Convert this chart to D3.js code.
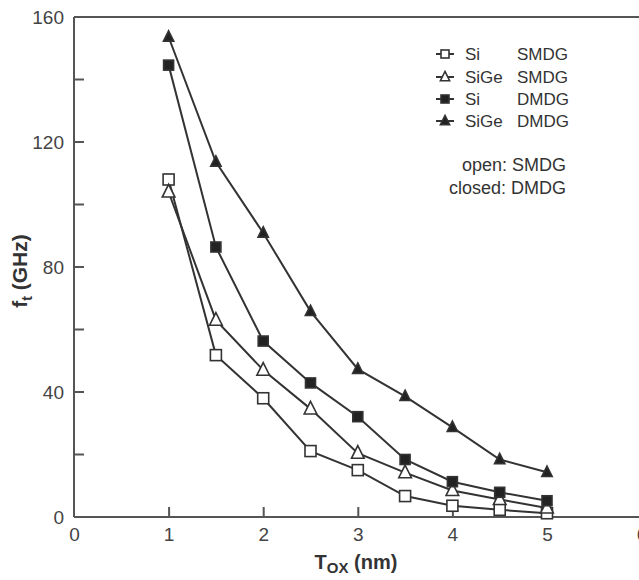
<!DOCTYPE html>
<html>
<head>
<meta charset="utf-8">
<script src="https://cdn.jsdelivr.net/npm/d3@7/dist/d3.min.js"></script>
<style>
  body { margin: 0; background: #fff; }
  svg text { font-family: "Liberation Sans", Arial, sans-serif; }
</style>
</head>
<body>
<div id="chart"></div>
<script>
// data
const tox = [1, 1.5, 2, 2.5, 3, 3.5, 4, 4.5, 5];
const siSMDG   = [108, 51.8, 38, 21.1, 15.0, 6.7, 3.6, 2.3, 1.2];
const sigeSMDG = [104, 63, 47, 34.6, 20.4, 14.2, 8.5, 5.6, 2.9];
const siDMDG   = [144.6, 86.4, 56.3, 42.9, 32.1, 18.4, 11.3, 7.9, 5.2];
const sigeDMDG = [153.6, 113.6, 90.9, 65.8, 47.3, 38.6, 28.7, 18.4, 14.3];
const yTicks = [0, 40, 80, 120, 160];
const xTicks = [0, 1, 2, 3, 4, 5, 6];

const series = [
  { name: 'Si', kind: 'SMDG', values: siSMDG, shape: 'square', filled: false },
  { name: 'SiGe', kind: 'SMDG', values: sigeSMDG, shape: 'triangle', filled: false },
  { name: 'Si', kind: 'DMDG', values: siDMDG, shape: 'square', filled: true },
  { name: 'SiGe', kind: 'DMDG', values: sigeDMDG, shape: 'triangle', filled: true }
];

const width = 639, height = 580;
const plotLeft = 74, plotTop = 17, plotBottom = 517;
const axisColor = '#555';
const lineColor = '#333';

const svg = d3.select('#chart').append('svg')
  .attr('width', width)
  .attr('height', height);

const x = d3.scaleLinear().domain([0, 6]).range([plotLeft, plotLeft + 6 * 94.6]);
const y = d3.scaleLinear().domain([0, 160]).range([plotBottom, plotTop]);

// frame: top line
svg.append('line').attr('x1', plotLeft).attr('x2', width).attr('y1', plotTop).attr('y2', plotTop)
  .attr('stroke', axisColor).attr('stroke-width', 2);

const xAxis = svg.append('g')
  .attr('transform', `translate(0,${plotBottom})`)
  .call(d3.axisBottom(x).tickValues(xTicks).tickSize(0).tickPadding(11).tickFormat(d3.format('d')));
xAxis.select('.domain').remove();
xAxis.append('line').attr('x1', plotLeft).attr('x2', width).attr('stroke', axisColor).attr('stroke-width', 2);
// inward ticks on x
xAxis.selectAll('.tick').filter(d => d > 0)
  .append('line').attr('y1', 0).attr('y2', -10).attr('stroke', axisColor).attr('stroke-width', 2);

const yAxis = svg.append('g')
  .attr('transform', `translate(${plotLeft},0)`)
  .call(d3.axisLeft(y).tickValues(yTicks).tickSize(0).tickPadding(10));
yAxis.select('.domain').remove();
yAxis.append('line').attr('y1', plotTop).attr('y2', plotBottom).attr('stroke', axisColor).attr('stroke-width', 2);
// inward ticks on y, every 20
d3.range(20, 160, 20).forEach(v => {
  yAxis.append('line').attr('x1', 0).attr('x2', 10).attr('y1', y(v)).attr('y2', y(v))
    .attr('stroke', axisColor).attr('stroke-width', 2);
});

svg.selectAll('.tick text')
  .attr('font-size', 19)
  .attr('fill', '#444');

// axis titles
const yt = svg.append('text')
  .attr('transform', `translate(27,271) rotate(-90)`)
  .attr('text-anchor', 'middle')
  .attr('font-size', 21).attr('font-weight', 'bold').attr('fill', '#333');
yt.append('tspan').text('f');
yt.append('tspan').attr('font-size', 14).attr('dy', 5).text('t');
yt.append('tspan').attr('dy', -5).text(' (GHz)');

const xt = svg.append('text')
  .attr('x', 356).attr('y', 569)
  .attr('text-anchor', 'middle')
  .attr('font-size', 20).attr('font-weight', 'bold').attr('fill', '#333');
xt.append('tspan').text('T');
xt.append('tspan').attr('font-size', 15).attr('dy', 4).text('OX');
xt.append('tspan').attr('dy', -4).text(' (nm)');

// marker drawing
function drawMarker(g, shape, filled, size) {
  if (shape === 'square') {
    g.append('rect')
      .attr('x', -size / 2).attr('y', -size / 2)
      .attr('width', size).attr('height', size)
      .attr('fill', filled ? '#222' : '#fff')
      .attr('stroke', lineColor).attr('stroke-width', 1.6);
  } else {
    const s = size * 1.15;
    g.append('path')
      .attr('d', `M0,${-s * 0.6}L${s / 2},${s * 0.4}L${-s / 2},${s * 0.4}Z`)
      .attr('fill', filled ? '#222' : '#fff')
      .attr('stroke', lineColor).attr('stroke-width', 1.6);
  }
}

const line = d3.line().x(d => x(d[0])).y(d => y(d[1]));

series.forEach(s => {
  const pts = tox.map((t, i) => [t, s.values[i]]);
  svg.append('path')
    .datum(pts)
    .attr('d', line)
    .attr('fill', 'none')
    .attr('stroke', lineColor)
    .attr('stroke-width', 2);
});

series.forEach(s => {
  const size = s.filled ? 10 : 11;
  tox.forEach((t, i) => {
    const g = svg.append('g').attr('transform', `translate(${x(t)},${y(s.values[i])})`);
    drawMarker(g, s.shape, s.filled, s.filled && s.shape === 'triangle' ? 9 : size);
  });
});

// legend
const legend = svg.append('g');
const rowsY = [54, 77, 99, 121];
series.forEach((s, i) => {
  const row = legend.append('g').attr('transform', `translate(445,${rowsY[i]})`);
  row.append('line').attr('x1', -9).attr('x2', 9).attr('stroke', lineColor).attr('stroke-width', 2);
  drawMarker(row, s.shape, s.filled, 8);
  row.append('text').attr('x', 20).attr('y', 6).attr('font-size', 17).attr('fill', '#333').text(s.name);
  row.append('text').attr('x', 72).attr('y', 6).attr('font-size', 17).attr('fill', '#333').text(s.kind);
});

legend.append('text').attr('x', 566).attr('y', 171).attr('text-anchor', 'end')
  .attr('font-size', 18).attr('fill', '#333').text('open: SMDG');
legend.append('text').attr('x', 566).attr('y', 194).attr('text-anchor', 'end')
  .attr('font-size', 18).attr('fill', '#333').text('closed: DMDG');
</script>
</body>
</html>
